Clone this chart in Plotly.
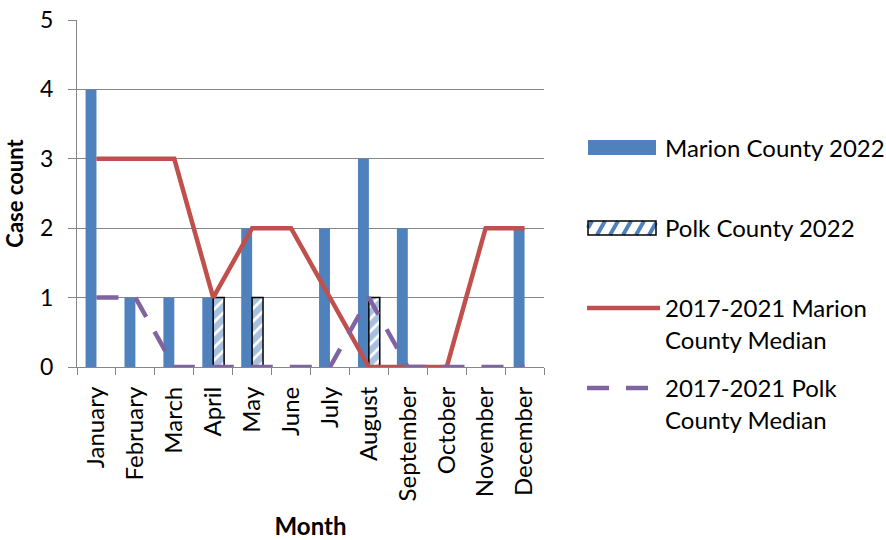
import plotly.graph_objects as go

months = ["January", "February", "March", "April", "May", "June", "July",
          "August", "September", "October", "November", "December"]
marion_2022 = [4, 1, 1, 1, 2, 0, 2, 3, 2, 0, 0, 2]
polk_2022 = [0, 0, 0, 1, 1, 0, 0, 1, 0, 0, 0, 0]
marion_median = [3, 3, 3, 1, 2, 2, 1, 0, 0, 0, 2, 2]
polk_median = [1, 1, 0, 0, 0, 0, 0, 1, 0, 0, 0, 0]

FONT = "Lato"
BLUE = "#4F81BD"
RED = "#C0504D"
PURPLE = "#8064A2"
GRID = "#868686"

L, R, T, B = 77, 544, 20, 367
W, H = 886, 540


def px_x(px):
    return (px - L) / (R - L)


def px_y(py):
    return (B - py) / (B - T)


fig = go.Figure()
fig.add_trace(go.Bar(
    x=months, y=marion_2022, name="Marion County 2022",
    marker=dict(color=BLUE, line=dict(width=0)), showlegend=False))
fig.add_trace(go.Bar(
    x=months, y=[v if v else None for v in polk_2022], name="Polk County 2022",
    marker=dict(color="white", line=dict(color="black", width=1.5),
                pattern=dict(shape="/", fgcolor=BLUE, bgcolor="white",
                             size=9, solidity=0.7)),
    showlegend=False))
fig.add_trace(go.Scatter(
    x=months, y=marion_median, name="2017-2021 Marion<br>County Median",
    mode="lines", line=dict(color=RED, width=4.5), legend="legend3"))
fig.add_trace(go.Scatter(
    x=months, y=polk_median, name="2017-2021 Polk<br>County Median",
    mode="lines", line=dict(color=PURPLE, width=4.5, dash="22px,17px"),
    legend="legend4"))
# legend text entries for the bar series (symbols drawn as shapes below)
fig.add_trace(go.Scatter(
    x=[None], y=[None], name="Marion County 2022", mode="lines",
    line=dict(color="rgba(0,0,0,0)", width=1), legend="legend"))
fig.add_trace(go.Scatter(
    x=[None], y=[None], name="Polk County 2022", mode="lines",
    line=dict(color="rgba(0,0,0,0)", width=1), legend="legend2"))

# legend symbols for bar series
shapes = []
sx0, sx1 = 588, 656
shapes.append(dict(type="rect", xref="paper", yref="paper",
                   x0=px_x(sx0), x1=px_x(sx1), y0=px_y(155), y1=px_y(140),
                   fillcolor=BLUE, line=dict(width=0)))
py0, py1 = 221, 235
shapes.append(dict(type="rect", xref="paper", yref="paper",
                   x0=px_x(sx0), x1=px_x(sx1), y0=px_y(py1), y1=px_y(py0),
                   fillcolor="white", line=dict(width=0)))
hgt = py1 - py0
slant = 8
step = 13
x = sx0 - slant + 4
while x < sx1:
    xa, ya = x, py1
    xb, yb = x + slant, py0
    if xa < sx0:
        ya = py1 - (sx0 - xa) / slant * hgt
        xa = sx0
    if xb > sx1:
        yb = py1 - (sx1 - x) / slant * hgt
        xb = sx1
    if xb > xa:
        shapes.append(dict(type="line", xref="paper", yref="paper",
                           x0=px_x(xa), x1=px_x(xb), y0=px_y(ya), y1=px_y(yb),
                           line=dict(color=BLUE, width=4)))
    x += step
shapes.append(dict(type="rect", xref="paper", yref="paper",
                   x0=px_x(sx0), x1=px_x(sx1), y0=px_y(py1), y1=px_y(py0),
                   fillcolor="rgba(0,0,0,0)", line=dict(color="black", width=1.5)))

LEG_FS = 24
leg_common = dict(font=dict(family=FONT, size=LEG_FS, color="black"),
                  bgcolor="rgba(0,0,0,0)", xanchor="left", yanchor="middle",
                  itemwidth=73, valign="top")
LX = px_x(582)

fig.update_layout(
    width=W, height=H,
    margin=dict(l=L, r=W - R, t=T, b=H - B, autoexpand=False),
    plot_bgcolor="white", paper_bgcolor="white",
    font=dict(family=FONT, size=23, color="black"),
    showlegend=True,
    barmode="group", bargap=0.44, bargroupgap=0,
    shapes=shapes,
    legend=dict(x=LX, y=px_y(148), **leg_common),
    legend2=dict(x=LX, y=px_y(228), **leg_common),
    legend3=dict(x=LX, y=px_y(324), **leg_common),
    legend4=dict(x=LX, y=px_y(404), **leg_common),
    xaxis=dict(
        type="category", tickangle=-90, tickson="boundaries",
        ticks="outside", ticklen=7, tickcolor=GRID, tickwidth=1.3,
        showline=True, linecolor=GRID, linewidth=1.3, automargin=False,
        showgrid=False, ticklabelstandoff=9,
        tickfont=dict(family=FONT, size=24, color="black"),
        title=dict(text="<b>Month</b>", font=dict(family=FONT, size=24, color="black"),
                   standoff=19),
    ),
    yaxis=dict(
        range=[0, 5], dtick=1, ticks="outside", ticklen=8, tickcolor=GRID,
        tickwidth=1.3, showline=True, linecolor=GRID, linewidth=1.3,
        showgrid=True, gridcolor=GRID, gridwidth=1.3, zeroline=False,
        automargin=False, ticklabelstandoff=10,
        tickfont=dict(family=FONT, size=23, color="black"),
        title=dict(text="<b>Case count</b>", font=dict(family=FONT, size=22, color="black"),
                   standoff=10),
    ),
)

fig.write_html("out.html", config={"displayModeBar": False},
               post_script="document.body.style.margin='0px';document.body.style.overflow='hidden';")
